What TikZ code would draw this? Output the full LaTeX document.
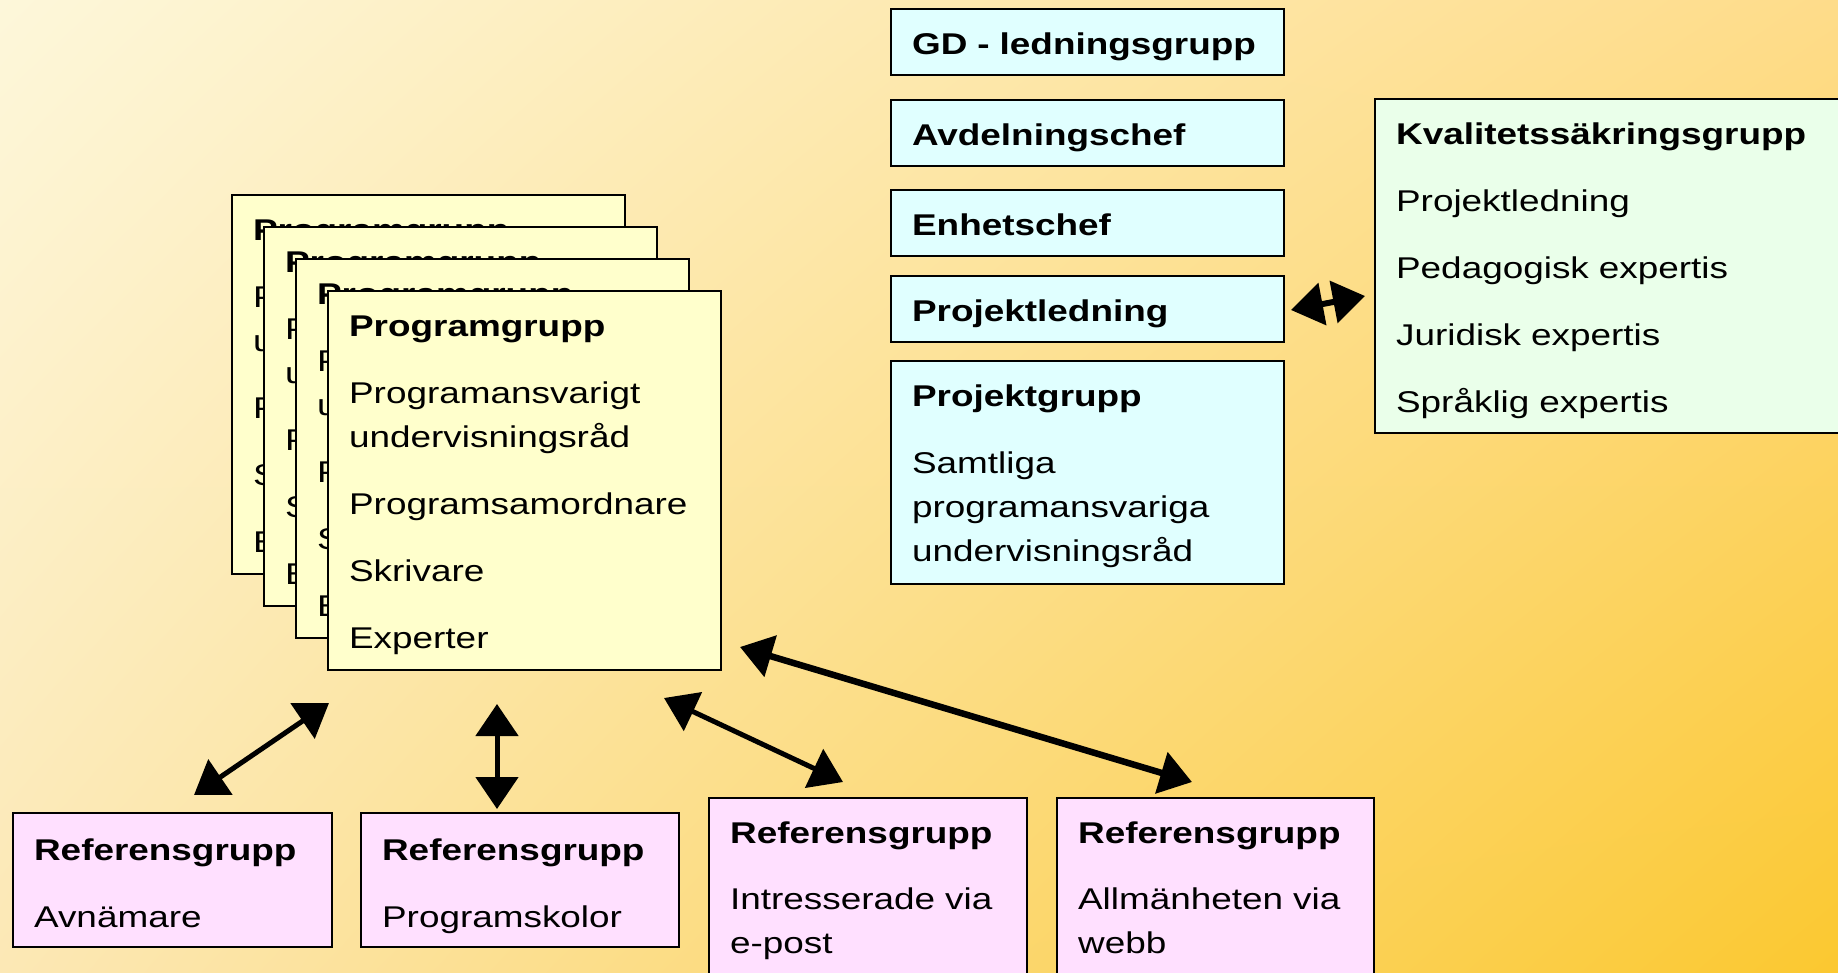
\documentclass[tikz,border=0pt]{standalone}
\usepackage{fontspec}
\setmainfont{Liberation Sans}[FakeStretch=1.23]
\usetikzlibrary{arrows.meta,shadings}
\definecolor{BgUL}{RGB}{253,247,218}
\definecolor{BgUR}{RGB}{254,220,138}
\definecolor{BgLL}{RGB}{252,232,181}
\definecolor{BgLR}{RGB}{251,200,48}
\definecolor{PgYellow}{RGB}{255,255,204}
\definecolor{LedBlue}{RGB}{224,255,255}
\definecolor{KvGreen}{RGB}{234,255,234}
\definecolor{RefPink}{RGB}{255,224,255}
\begin{document}
\begin{tikzpicture}[x=1pt,y=-1pt,
  box/.style n args={4}{draw=black,line width=2.2pt,fill=#1,anchor=north west,inner xsep=21pt,inner ysep=0pt,align=left,text width=#2,text height=#3,text depth=#4,font=\fontsize{30}{44}\selectfont},
  dbl/.style={<->,>={Triangle[length=32pt,width=42pt]},line width=#1},
  dbl/.default=5pt]
\useasboundingbox (0,0) rectangle (1838,972);
\clip (0,0) rectangle (1838,972);
\shade[upper left=BgUL,upper right=BgUR,lower left=BgLL,lower right=BgLR] (0,0) rectangle (1838,972);
% programgrupper, stacked
\foreach \i in {1,...,4} {
   \node[box={PgYellow}{351pt}{45pt}{334pt}] (pg\i) at ({231+32*(\i-1)},{194+32*(\i-1)})
   {\textbf{Programgrupp}\\[23pt] Programansvarigt\\ undervisningsråd\\[23pt] Programsamordnare\\[23pt] Skrivare\\[23pt] Experter};
}
% ledning
\foreach \n/\y/\t in {gd/8/GD - ledningsgrupp,avd/99/Avdelningschef,enh/189/Enhetschef,pl/275/Projektledning} {
   \node[box={LedBlue}{351pt}{45pt}{21pt}] (\n) at (890,\y) {\textbf{\t}};
}
\node[box={LedBlue}{351pt}{45pt}{178pt}] (pgr) at (890,360)
   {\textbf{Projektgrupp}\\[23pt] Samtliga\\ programansvariga\\ undervisningsråd};
\node[box={KvGreen}{438pt}{45pt}{289pt}] (kval) at (1374,98)
   {\textbf{Kvalitetssäkringsgrupp}\\[23pt] Projektledning\\[23pt] Pedagogisk expertis\\[23pt] Juridisk expertis\\[23pt] Språklig expertis};
% referensgrupper
\node[box={RefPink}{277pt}{47pt}{87pt}] (ref1) at (12,812) {\textbf{Referensgrupp}\\[23pt] Avnämare};
\node[box={RefPink}{276pt}{47pt}{87pt}] (ref2) at (360,812) {\textbf{Referensgrupp}\\[23pt] Programskolor};
\node[box={RefPink}{276pt}{45pt}{155pt}] (ref3) at (708,797) {\textbf{Referensgrupp}\\[22pt] Intresserade via\\ e-post};
\node[box={RefPink}{275pt}{45pt}{155pt}] (ref4) at (1056,797) {\textbf{Referensgrupp}\\[22pt] Allmänheten via\\ webb};
% pilar
\coordinate (r1a) at (194,795);  \coordinate (r1b) at (329,703);
\coordinate (r2a) at (497,809);  \coordinate (r2b) at (497,704);
\coordinate (r3a) at (843,782);  \coordinate (r3b) at (664,698);
\coordinate (r4a) at (1192,782); \coordinate (r4b) at (740,647);
\coordinate (kva) at (1291,310); \coordinate (kvb) at (1365,296);
\draw[dbl] (r1a) -- (r1b);
\draw[dbl] (r2a) -- (r2b);
\draw[dbl] (r3a) -- (r3b);
\draw[dbl=6.5pt] (r4a) -- (r4b);
\draw[dbl=6pt] (kva) -- (kvb);
\end{tikzpicture}
\end{document}
